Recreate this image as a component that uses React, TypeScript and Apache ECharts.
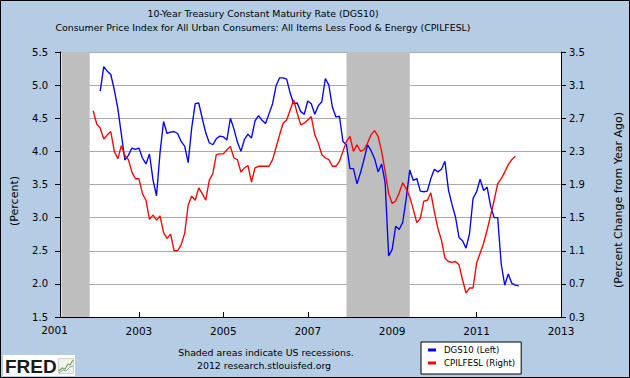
import React, { useEffect, useRef } from "react";
import * as echarts from "echarts";

const titleLines = [
  "10-Year Treasury Constant Maturity Rate (DGS10)",
  "Consumer Price Index for All Urban Consumers: All Items Less Food & Energy (CPILFESL)",
];
const leftAxisName = "(Percent)";
const rightAxisName = "(Percent Change from Year Ago)";
const footerLines = ["Shaded areas indicate US recessions.", "2012 research.stlouisfed.org"];
const seriesNames = ["DGS10 (Left)", "CPILFESL (Right)"];
const logoText = "FRED";

const xTickLabels = [2001, 2003, 2005, 2007, 2009, 2011, 2013];
const rightTicks = [0.3, 0.7, 1.1, 1.5, 1.9, 2.3, 2.7, 3.1, 3.5];

const recessions = [
  ["2001-03", "2001-11"],
  ["2007-12", "2009-06"],
];

// 10-Year Treasury, monthly, from Feb 2002
const dgs10Start = "2002-02";
const dgs10 = [
  4.91, 5.28, 5.21, 5.16, 4.93, 4.65, 4.26, 3.87, 3.94, 4.05, 4.03,
  4.05, 3.9, 3.81, 3.96, 3.57, 3.33, 3.98, 4.45, 4.27, 4.29, 4.3, 4.27,
  4.15, 4.08, 3.83, 4.35, 4.72, 4.73, 4.5, 4.28, 4.13, 4.1, 4.19, 4.23,
  4.22, 4.17, 4.5, 4.34, 4.14, 4.0, 4.18, 4.26, 4.2, 4.46, 4.54, 4.47,
  4.42, 4.57, 4.72, 4.99, 5.11, 5.11, 5.09, 4.88, 4.72, 4.73, 4.6, 4.56,
  4.76, 4.72, 4.56, 4.69, 4.75, 5.1, 5.0, 4.67, 4.52, 4.53, 4.15, 4.1,
  3.74, 3.74, 3.51, 3.68, 3.88, 4.1, 4.01, 3.89, 3.69, 3.81, 3.53, 2.42,
  2.52, 2.87, 2.82, 2.93, 3.29, 3.72, 3.56, 3.59, 3.4, 3.39, 3.4, 3.59,
  3.73, 3.69, 3.73, 3.85, 3.42, 3.2, 3.01, 2.7, 2.65, 2.54, 2.76, 3.29,
  3.39, 3.58, 3.41, 3.46, 3.17, 3.0, 3.0, 2.3, 1.98, 2.15, 2.01, 1.98,
  1.97,
];

// Core CPI, % change from year ago, monthly, from Dec 2001
const cpiStart = "2001-12";
const cpilfesl = [
  2.79,
  2.63, 2.58, 2.45, 2.5, 2.54, 2.3, 2.21, 2.37, 2.25, 2.2, 2.05, 1.97,
  1.97, 1.79, 1.71, 1.48, 1.53, 1.47, 1.52, 1.32, 1.25, 1.3, 1.1, 1.1,
  1.17, 1.31, 1.65, 1.76, 1.71, 1.86, 1.79, 1.71, 1.95, 2.03, 2.26, 2.27,
  2.27, 2.32, 2.36, 2.22, 2.2, 2.05, 2.1, 2.13, 1.93, 2.1, 2.12, 2.12,
  2.12, 2.12, 2.2, 2.35, 2.5, 2.64, 2.68, 2.8, 2.92, 2.76, 2.62, 2.64,
  2.68, 2.72, 2.5, 2.4, 2.26, 2.22, 2.2, 2.12, 2.12, 2.18, 2.3, 2.42,
  2.48, 2.3, 2.38, 2.3, 2.32, 2.4, 2.5, 2.55, 2.48, 2.3, 2.06, 1.79,
  1.67, 1.7, 1.8, 1.92, 1.85, 1.75, 1.6, 1.44, 1.49, 1.7, 1.71, 1.8,
  1.57, 1.37, 1.23, 1.01, 0.97, 0.96, 0.97, 0.93, 0.75, 0.59, 0.65, 0.65,
  0.95, 1.07, 1.19, 1.35, 1.53, 1.71, 1.91, 1.97, 2.05, 2.14, 2.2, 2.24,
];

const FONT = "'DejaVu Sans', Verdana, sans-serif";
const BG = "#b4cde4";

function monthToYear(s: string): number {
  const [y, m] = s.split("-").map(Number);
  return y + (m - 1) / 12;
}

function toSeries(start: string, values: number[]) {
  const s = monthToYear(start);
  return values.map((v, i) => [s + i / 12, v]);
}

export default function App() {
  const ref = useRef<HTMLDivElement>(null);

  useEffect(() => {
    if (!ref.current) return;
    const chart = echarts.init(ref.current, null, { renderer: "svg" });

    const txt = (text: string, x: number, y: number, size: number, extra: any = {}) => ({
      type: "text",
      x,
      y,
      silent: true,
      ...extra,
      style: {
        text,
        font: `${size}px ${FONT}`,
        fontSize: size,
        fontFamily: FONT,
        fill: "#000",
        textAlign: "center",
        textVerticalAlign: "middle",
      },
    });

    const baseGraphics: any[] = [
      txt(titleLines[0], 263, 13, 9.4),
      txt(titleLines[1], 263, 27, 9.4),
      txt(leftAxisName, 14, 201, 11, { rotation: Math.PI / 2 }),
      txt(rightAxisName, 618, 200, 11, { rotation: Math.PI / 2 }),
      txt(footerLines[0], 266, 352, 9.4),
      txt(footerLines[1], 264, 365, 9.4),
      {
        type: "rect",
        silent: true,
        shape: { x: 3, y: 355, width: 72, height: 21 },
        style: { fill: "#ffffff" },
      },
      {
        type: "text",
        x: 5,
        y: 366,
        silent: true,
        style: {
          text: logoText,
          font: "900 19px 'Liberation Sans', Arial, sans-serif",
          fontSize: 19,
          fontWeight: 900,
          fontFamily: "'Liberation Sans', Arial, sans-serif",
          fill: "#1a1a1a",
          textAlign: "left",
          textVerticalAlign: "middle",
        },
      },
      {
        type: "rect",
        silent: true,
        shape: { x: 58.5, y: 358.5, width: 15, height: 15 },
        style: { fill: "#f2f2f2", stroke: "#cfcfcf", lineWidth: 1 },
      },
      {
        type: "polyline",
        silent: true,
        shape: { points: [[59, 371], [62, 368], [65, 369], [68, 364], [70, 365], [73, 360]] },
        style: { fill: "none", stroke: "#6fae4a", lineWidth: 1.2 },
      },
      {
        type: "polyline",
        silent: true,
        shape: { points: [[59, 373], [63, 370], [66, 371], [70, 367], [73, 366]] },
        style: { fill: "none", stroke: "#7f9fca", lineWidth: 1 },
      },
      {
        type: "rect",
        silent: true,
        z: 100,
        shape: { x: 0.5, y: 0.5, width: 629, height: 377 },
        style: { fill: "none", stroke: "#000", lineWidth: 1 },
      },
    ];

    const axisLineStyle = { color: "#000", width: 1 };

    const option: any = {
      animation: false,
      backgroundColor: BG,
      textStyle: { fontFamily: FONT },
      grid: {
        left: 60,
        right: 69,
        top: 52,
        bottom: 61,
        show: true,
        backgroundColor: "#ffffff",
        borderWidth: 0,
      },
      xAxis: {
        type: "value",
        min: 2001.13,
        max: 2013,
        axisLine: { show: true, onZero: false, lineStyle: axisLineStyle },
        axisTick: { show: true, inside: true, length: 5, lineStyle: axisLineStyle, customValues: xTickLabels },
        axisLabel: {
          customValues: xTickLabels,
          color: "#000",
          fontSize: 10.5,
          fontFamily: FONT,
          margin: 8,
          formatter: (v: number) => String(Math.round(v)),
        },
        splitLine: { show: false },
      },
      yAxis: [
        {
          type: "value",
          min: 1.5,
          max: 5.5,
          interval: 0.5,
          position: "left",
          axisLine: { show: true, lineStyle: axisLineStyle },
          axisTick: { show: true, length: 5, lineStyle: axisLineStyle },
          axisLabel: {
            color: "#000",
            fontSize: 10,
            fontFamily: FONT,
            margin: 12,
            formatter: (v: number) => v.toFixed(1),
          },
          splitLine: { show: true, lineStyle: { color: "#aaaaaa", width: 1 } },
        },
        {
          type: "value",
          min: 0.3,
          max: 3.5,
          position: "right",
          axisLine: { show: true, lineStyle: axisLineStyle },
          axisTick: { show: true, length: 5, lineStyle: axisLineStyle, customValues: rightTicks },
          axisLabel: {
            customValues: rightTicks,
            color: "#000",
            fontSize: 10,
            fontFamily: FONT,
            margin: 8,
            formatter: (v: number) => v.toFixed(1),
          },
          splitLine: { show: false },
        },
      ],
      legend: {
        data: seriesNames,
        orient: "vertical",
        left: 421,
        top: 342,
        backgroundColor: "#ffffff",
        borderColor: "#000",
        borderWidth: 1,
        borderRadius: 0,
        padding: [2, 6, 5, 7],
        itemWidth: 8,
        itemHeight: 3,
        itemGap: 1,
        icon: "rect",
        textStyle: { fontSize: 8.6, color: "#000", fontFamily: FONT, lineHeight: 12, padding: [0, 0, 0, 3] },
      },
      series: [
        {
          name: "recessions",
          type: "line",
          data: [],
          silent: true,
          markArea: {
            silent: true,
            itemStyle: { color: "#bebebe", opacity: 1 },
            label: { show: false },
            data: recessions.map(([a, b]) => [{ xAxis: monthToYear(a) }, { xAxis: monthToYear(b) }]),
          },
        },
        {
          name: seriesNames[0],
          type: "line",
          yAxisIndex: 0,
          data: toSeries(dgs10Start, dgs10),
          showSymbol: false,
          symbol: "none",
          color: "#0000ff",
          lineStyle: { color: "#0000ff", width: 1.35 },
        },
        {
          name: seriesNames[1],
          type: "line",
          yAxisIndex: 1,
          data: toSeries(cpiStart, cpilfesl),
          showSymbol: false,
          symbol: "none",
          color: "#ff0000",
          lineStyle: { color: "#ff0000", width: 1.35 },
        },
      ],
      graphic: { elements: baseGraphics },
    };

    chart.setOption(option);

    // first year label sits left of the plotted range; place it with the axis scale
    const px = chart.convertToPixel({ xAxisIndex: 0 }, xTickLabels[0]) as number;
    const firstLabel = txt(String(xTickLabels[0]), px, 330, 10.5);
    chart.setOption({ graphic: { elements: [...baseGraphics, firstLabel] } });

    return () => {
      chart.dispose();
    };
  }, []);

  return (
    <div
      ref={ref}
      style={{ position: "fixed", left: 0, top: 0, width: 630, height: 378 }}
    />
  );
}
